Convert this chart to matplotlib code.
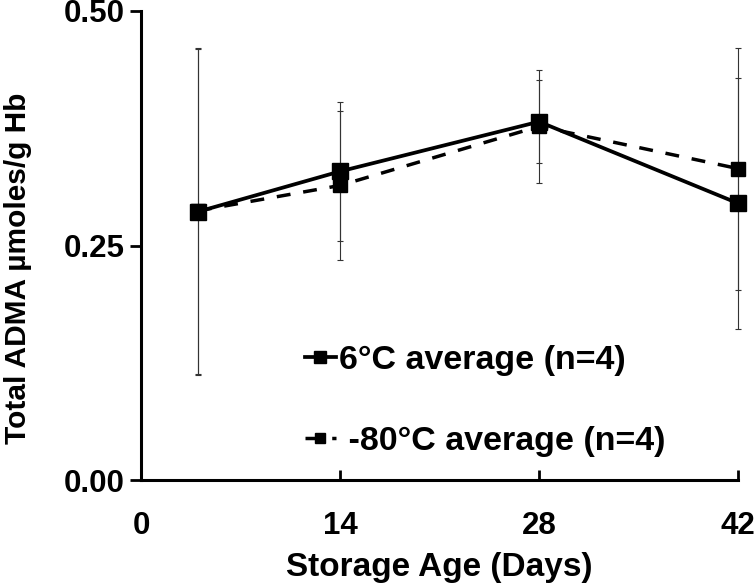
import matplotlib
matplotlib.use("Agg")
import matplotlib.pyplot as plt
from matplotlib.ticker import FormatStrFormatter

# values
days = [4, 14, 28, 42]
avg_6c = [0.286, 0.329, 0.382, 0.295]
err_6c = [0.174, 0.074, 0.044, 0.134]
avg_80c = [0.287, 0.314, 0.377, 0.332]
err_80c = [0.174, 0.079, 0.060, 0.129]
x_ticks = [0, 14, 28, 42]
y_ticks = [0.00, 0.25, 0.50]

plt.rcParams['font.family'] = ['Liberation Sans', 'DejaVu Sans']
plt.rcParams['font.weight'] = 'bold'

fig = plt.figure(figsize=(7.55, 5.88), dpi=100)
ax = fig.add_axes([141/755, 1 - 480/588, 597/755, 469/588])

# error bars first (thin, behind the lines)
for avg, err in [(avg_80c, err_80c), (avg_6c, err_6c)]:
    eb = ax.errorbar(days, avg, yerr=err, fmt='none', ecolor='#333333',
                     elinewidth=0.8, capsize=2.5, capthick=0.8, zorder=1)
    for part in eb.get_children():
        part.set_clip_on(False)

ax.plot(days, avg_80c, color='black', lw=2.5, ls=(0, (4, 3.7)), clip_on=False,
        marker='s', markersize=10.5, label=' -80°C average (n=4)', zorder=3)
ax.plot(days, avg_6c, color='black', lw=2.7, ls='-', clip_on=False,
        marker='s', markersize=12, label='6°C average (n=4)', zorder=4)

ax.set_xlim(0, 42)
ax.set_ylim(0, 0.5)
ax.set_xticks(x_ticks)
ax.set_yticks(y_ticks)
ax.yaxis.set_major_formatter(FormatStrFormatter('%.2f'))

for s in ['top', 'right']:
    ax.spines[s].set_visible(False)
for s in ['left', 'bottom']:
    ax.spines[s].set_linewidth(2.2)

ax.tick_params(axis='y', direction='out', length=8, width=2, pad=4, labelsize=22.5)
ax.tick_params(axis='x', direction='in', length=7, width=2, pad=22, labelsize=22.5)

ax.set_xlabel('Storage Age (Days)', fontsize=24, fontweight='bold')
ax.set_ylabel('Total ADMA µmoles/g Hb', fontsize=21.5, fontweight='bold')
ax.xaxis.set_label_coords(0.5, -0.154)
ax.yaxis.set_label_coords(-0.183, 0.452)

handles, labels = ax.get_legend_handles_labels()
ax.legend(handles[::-1], labels[::-1], loc='center left',
          bbox_to_anchor=((305 - 141) / 597, (480 - 401) / 469),
          frameon=False, fontsize=24.5, handlelength=0.9, handletextpad=0.1,
          labelspacing=1.45, borderpad=0, borderaxespad=0, markerscale=0.75,
          numpoints=1)

fig.savefig('out.png', dpi=100)
